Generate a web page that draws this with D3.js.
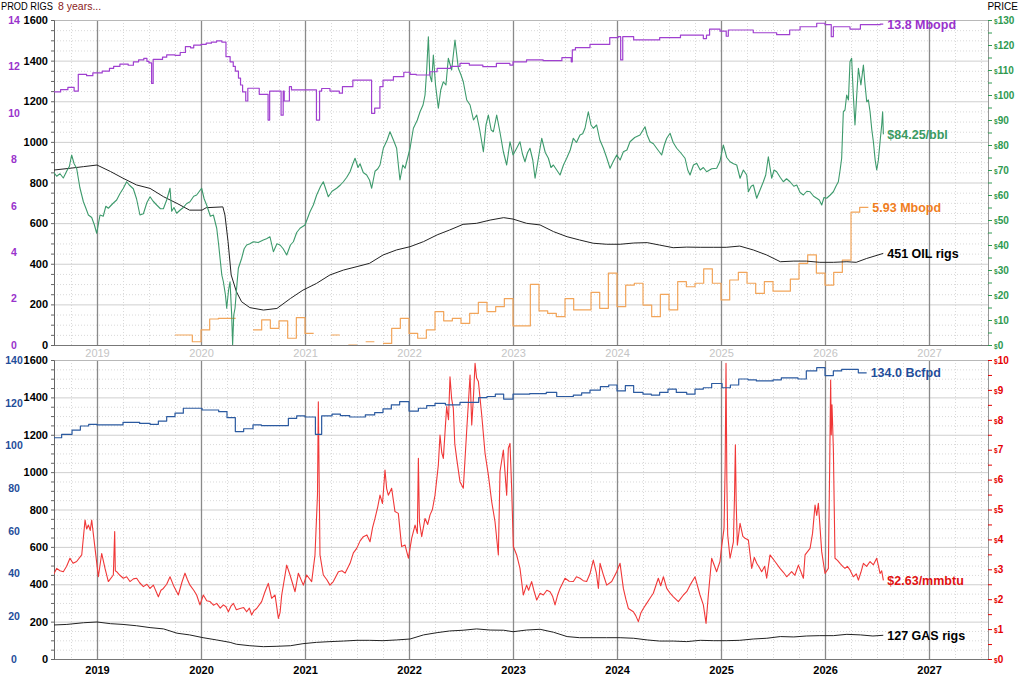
<!DOCTYPE html>
<html>
<head>
<meta charset="utf-8">
<script src="https://cdn.jsdelivr.net/npm/d3@7"></script>
<style>
body { margin: 0; background: #fff; }
svg { display: block; font-family: "Liberation Sans", Arial, sans-serif; }
</style>
</head>
<body>
<script>
// ---- tick labels ----
var years = [2019, 2020, 2021, 2022, 2023, 2024, 2025, 2026, 2027];
var rigTicks = [0, 200, 400, 600, 800, 1000, 1200, 1400, 1600];
var oilProdTicks = [0, 2, 4, 6, 8, 10, 12, 14];
var gasProdTicks = [0, 20, 40, 60, 80, 100, 120, 140];
var oilPriceTicks = [0, 10, 20, 30, 40, 50, 60, 70, 80, 90, 100, 110, 120, 130];
var gasPriceTicks = [0, 1, 2, 3, 4, 5, 6, 7, 8, 9, 10];

// ---- series, [decimal year, value] ----
// US crude production, Mbopd (step)
var oilProd = [[2018.58,10.90],[2018.65,11.00],[2018.72,11.10],[2018.78,10.94],[2018.82,11.66],[2018.90,11.60],
  [2018.96,11.72],[2019.05,11.80],[2019.12,11.92],[2019.16,12.00],[2019.22,12.10],[2019.30,12.05],[2019.35,12.20],
  [2019.40,12.28],[2019.45,12.35],[2019.48,12.22],[2019.50,12.15],[2019.525,11.27],[2019.54,12.30],[2019.63,12.40],
  [2019.67,12.50],[2019.75,12.48],[2019.80,12.60],[2019.85,12.85],[2019.90,12.80],[2019.93,12.92],[2020.00,12.95],
  [2020.05,13.00],[2020.10,13.05],[2020.15,13.10],[2020.20,13.05],[2020.24,12.42],[2020.28,12.20],[2020.31,12.00],
  [2020.33,11.80],[2020.36,11.50],[2020.38,11.20],[2020.40,10.90],[2020.43,10.51],[2020.45,11.06],[2020.56,10.80],
  [2020.645,9.69],[2020.66,10.94],[2020.77,9.90],[2020.79,10.94],[2020.80,10.51],[2020.85,11.13],[2020.87,10.99],
  [2021.11,9.69],[2021.14,10.94],[2021.16,11.05],[2021.24,10.94],[2021.33,10.85],[2021.36,11.13],[2021.46,11.41],
  [2021.64,9.98],[2021.67,10.20],[2021.72,11.13],[2021.75,11.41],[2021.85,11.56],[2021.95,11.75],[2022.01,11.66],
  [2022.07,11.63],[2022.20,11.77],[2022.27,11.92],[2022.40,12.00],[2022.49,12.13],[2022.58,12.06],[2022.71,11.99],
  [2022.84,12.13],[2022.97,12.06],[2023.00,12.20],[2023.13,12.28],[2023.29,12.25],[2023.47,12.38],[2023.56,12.20],
  [2023.57,12.71],[2023.60,12.81],[2023.74,12.95],[2023.93,13.24],[2024.01,13.28],[2024.035,12.28],[2024.055,13.28],
  [2024.16,13.14],[2024.41,13.24],[2024.61,13.35],[2024.83,13.20],[2024.86,13.35],[2024.89,13.61],[2024.99,13.52],
  [2025.05,13.30],[2025.07,13.57],[2025.31,13.45],[2025.535,13.37],[2025.66,13.57],[2025.76,13.71],[2025.92,13.86],
  [2026.00,13.80],[2026.06,13.28],[2026.08,13.71],[2026.24,13.61],[2026.34,13.80],[2026.53,13.82],[2026.56,13.82]];

// monthly production from Oct 2019, Mbopd (orange, step, gaps = null)
var orangeStart = 2019.75;
var orangeProd = [0.43,0.43,0.14,0.65,1.12,1.15,1.15,null,null,0.65,1.08,0.72,1.04,0.29,1.18,0.50,null,null,0.43,null,
  0.00,null,0.14,null,0.07,0.72,1.15,0.50,0.29,0.65,1.44,1.04,1.15,0.93,1.36,1.84,1.44,1.65,2.00,0.82,0.82,2.61,1.47,
  1.36,1.22,2.00,1.51,1.51,2.27,1.58,3.10,1.65,2.58,2.66,1.72,1.22,2.18,1.51,2.73,2.51,2.66,3.28,2.66,1.94,2.80,3.13,
  2.66,2.22,2.73,2.32,2.32,2.84,3.52,3.88,3.10,2.58,3.13,3.66,5.72,5.93];

// WTI, $/bbl
var oilPrice = [[2018.580,69.3],[2018.612,67.5],[2018.644,68.5],[2018.676,66.8],[2018.708,69.5],[2018.735,71.5],
  [2018.756,76.0],[2018.780,72.5],[2018.804,70.7],[2018.835,63.0],[2018.869,57.3],[2018.895,54.5],[2018.917,52.0],
  [2018.949,51.0],[2018.975,48.0],[2018.997,44.7],[2019.029,52.0],[2019.060,51.5],[2019.085,55.5],[2019.109,54.7],
  [2019.150,56.5],[2019.189,58.0],[2019.220,60.5],[2019.253,62.7],[2019.285,65.3],[2019.310,64.0],[2019.349,62.5],
  [2019.380,58.5],[2019.413,52.0],[2019.446,52.5],[2019.480,57.0],[2019.510,59.3],[2019.540,57.5],[2019.574,56.0],
  [2019.610,54.5],[2019.638,54.5],[2019.670,58.0],[2019.702,62.7],[2019.718,53.5],[2019.740,55.0],[2019.766,52.7],
  [2019.800,54.0],[2019.830,55.0],[2019.860,56.5],[2019.894,57.3],[2019.930,59.5],[2019.958,60.0],[2020.006,62.7],
  [2020.030,58.5],[2020.054,56.0],[2020.090,51.5],[2020.119,52.0],[2020.151,46.7],[2020.170,40.0],[2020.183,34.7],
  [2020.200,28.0],[2020.215,25.3],[2020.235,20.0],[2020.247,14.7],[2020.265,22.0],[2020.279,25.3],[2020.295,12.0],
  [2020.304,0.0],[2020.315,12.0],[2020.327,14.7],[2020.345,24.0],[2020.359,30.7],[2020.391,34.7],[2020.415,38.5],
  [2020.439,40.0],[2020.470,40.5],[2020.503,41.3],[2020.550,41.0],[2020.599,42.0],[2020.630,42.5],[2020.663,43.3],
  [2020.696,37.3],[2020.730,40.5],[2020.760,40.0],[2020.790,38.5],[2020.824,36.0],[2020.860,40.0],[2020.888,41.3],
  [2020.920,45.0],[2020.952,46.7],[2021.000,48.0],[2021.048,53.3],[2021.080,56.0],[2021.112,60.0],[2021.150,63.5],
  [2021.176,65.3],[2021.224,59.3],[2021.260,61.5],[2021.304,62.7],[2021.340,64.0],[2021.369,65.3],[2021.400,67.0],
  [2021.433,69.3],[2021.460,72.5],[2021.481,74.7],[2021.510,71.0],[2021.529,72.5],[2021.560,69.0],[2021.593,68.0],
  [2021.620,66.0],[2021.641,62.7],[2021.673,69.5],[2021.700,70.5],[2021.721,72.0],[2021.753,78.7],[2021.790,82.0],
  [2021.817,85.3],[2021.850,82.0],[2021.881,78.7],[2021.900,71.0],[2021.913,66.0],[2021.940,72.0],[2021.962,70.7],
  [2022.010,78.7],[2022.042,86.7],[2022.080,90.0],[2022.106,93.3],[2022.135,96.0],[2022.154,100.0],[2022.170,110.0],
  [2022.186,123.3],[2022.200,108.0],[2022.218,105.3],[2022.234,116.0],[2022.255,104.0],[2022.282,94.7],[2022.305,102.0],
  [2022.330,105.3],[2022.355,104.0],[2022.378,114.7],[2022.410,110.0],[2022.442,122.0],[2022.474,110.7],[2022.500,108.0],
  [2022.522,105.3],[2022.555,98.0],[2022.587,96.0],[2022.620,90.0],[2022.651,92.0],[2022.680,86.0],[2022.715,77.3],
  [2022.740,88.0],[2022.763,92.0],[2022.790,86.0],[2022.811,85.3],[2022.843,92.0],[2022.875,85.0],[2022.907,77.3],
  [2022.939,72.0],[2022.971,81.3],[2023.000,76.0],[2023.035,78.7],[2023.067,81.3],[2023.090,76.5],[2023.115,73.3],
  [2023.140,77.0],[2023.163,78.7],[2023.190,74.0],[2023.212,66.7],[2023.245,75.0],[2023.276,82.7],[2023.310,77.0],
  [2023.340,74.7],[2023.365,71.0],[2023.388,72.0],[2023.420,70.0],[2023.452,68.0],[2023.485,72.0],[2023.516,74.7],
  [2023.550,78.0],[2023.580,82.7],[2023.610,81.0],[2023.644,84.0],[2023.670,84.5],[2023.692,86.7],[2023.724,93.3],
  [2023.750,88.0],[2023.772,86.7],[2023.804,88.0],[2023.835,82.0],[2023.869,78.7],[2023.900,75.0],[2023.933,70.7],
  [2023.965,73.5],[2023.997,76.0],[2024.030,74.0],[2024.061,77.3],[2024.095,78.0],[2024.125,81.3],[2024.170,83.0],
  [2024.221,84.0],[2024.269,87.3],[2024.290,84.0],[2024.317,81.3],[2024.350,80.5],[2024.381,78.7],[2024.429,76.0],
  [2024.455,80.0],[2024.478,82.7],[2024.510,84.7],[2024.540,81.0],[2024.574,78.7],[2024.610,77.0],[2024.654,74.7],
  [2024.680,70.0],[2024.702,68.0],[2024.735,72.0],[2024.766,72.7],[2024.800,70.0],[2024.830,71.0],[2024.862,69.3],
  [2024.910,70.5],[2024.958,70.7],[2024.990,73.5],[2025.022,80.0],[2025.055,75.0],[2025.087,73.3],[2025.120,72.5],
  [2025.151,72.0],[2025.183,66.7],[2025.215,70.0],[2025.247,68.0],[2025.263,61.3],[2025.290,63.5],[2025.311,64.0],
  [2025.343,58.7],[2025.375,62.0],[2025.407,65.3],[2025.430,68.0],[2025.455,75.3],[2025.487,66.7],[2025.510,70.0],
  [2025.535,69.3],[2025.570,67.0],[2025.599,65.3],[2025.630,66.5],[2025.663,65.3],[2025.700,63.5],[2025.728,64.0],
  [2025.760,61.0],[2025.792,60.0],[2025.825,61.5],[2025.856,61.3],[2025.890,59.5],[2025.920,58.7],[2025.945,58.0],
  [2025.968,56.0],[2025.990,59.0],[2026.016,58.7],[2026.050,60.0],[2026.080,61.3],[2026.105,63.5],[2026.128,65.3],
  [2026.145,70.0],[2026.160,74.7],[2026.176,93.3],[2026.192,94.0],[2026.208,100.0],[2026.225,98.0],[2026.240,113.3],
  [2026.256,114.7],[2026.272,100.0],[2026.288,88.0],[2026.305,100.0],[2026.321,110.7],[2026.345,104.0],[2026.369,112.0],
  [2026.385,104.0],[2026.401,97.3],[2026.417,98.0],[2026.433,93.3],[2026.450,86.0],[2026.465,81.3],[2026.482,74.0],
  [2026.497,70.0],[2026.513,74.0],[2026.529,81.3],[2026.545,88.0],[2026.554,93.3],[2026.561,84.25]];

// oil rigs
var oilRigs = [[2018.58,861],[2018.74,870],[2018.87,878],[2019.00,886],[2019.13,854],[2019.25,821],[2019.38,788],
  [2019.51,771],[2019.64,730],[2019.77,697],[2019.89,664],[2020.01,664],[2020.05,676],[2020.21,680],[2020.23,640],
  [2020.26,509],[2020.29,345],[2020.34,263],[2020.39,213],[2020.47,184],[2020.60,172],[2020.73,180],[2020.86,229],
  [2020.98,270],[2021.11,303],[2021.24,345],[2021.37,369],[2021.50,386],[2021.62,402],[2021.75,443],[2021.88,468],
  [2022.01,484],[2022.14,509],[2022.27,542],[2022.39,566],[2022.52,594],[2022.65,599],[2022.78,615],[2022.91,627],
  [2023.00,620],[2023.13,599],[2023.26,591],[2023.39,558],[2023.52,533],[2023.64,517],[2023.77,501],[2023.90,496],
  [2024.03,496],[2024.16,502],[2024.29,504],[2024.41,492],[2024.54,479],[2024.67,482],[2024.80,481],[2024.93,481],
  [2025.05,481],[2025.18,487],[2025.31,468],[2025.44,443],[2025.57,410],[2025.70,413],[2025.82,413],[2025.95,407],
  [2026.08,407],[2026.21,410],[2026.30,407],[2026.40,426],[2026.56,451]];

// US dry gas production, Bcfpd (step)
var gasProd = [[2018.58,103.6],[2018.66,105.2],[2018.76,107.2],[2018.84,109.1],[2018.92,109.9],[2019.00,109.6],
  [2019.25,110.8],[2019.41,110.3],[2019.51,109.9],[2019.59,111.4],[2019.67,113.5],[2019.75,115.1],[2019.83,117.4],
  [2020.01,116.6],[2020.17,115.8],[2020.25,113.0],[2020.33,106.5],[2020.41,107.8],[2020.50,109.6],[2020.58,109.3],
  [2020.84,112.7],[2020.92,113.8],[2021.00,113.3],[2021.10,105.2],[2021.16,113.8],[2021.26,114.7],[2021.34,114.0],
  [2021.43,113.3],[2021.58,114.3],[2021.67,115.4],[2021.75,117.1],[2021.83,119.0],[2021.91,120.5],[2022.00,116.1],
  [2022.09,117.4],[2022.17,118.6],[2022.25,119.7],[2022.35,119.0],[2022.49,120.2],[2022.67,122.4],[2022.75,122.9],
  [2022.83,124.0],[2022.91,121.7],[2023.00,124.0],[2023.16,124.3],[2023.32,124.8],[2023.42,122.9],[2023.58,123.6],
  [2023.66,124.6],[2023.74,125.9],[2023.84,127.5],[2023.92,128.3],[2024.00,125.5],[2024.08,128.0],[2024.16,124.8],
  [2024.25,124.0],[2024.33,123.6],[2024.41,124.8],[2024.49,126.4],[2024.57,124.8],[2024.67,124.0],[2024.75,126.4],
  [2024.83,127.0],[2024.91,129.0],[2025.01,127.0],[2025.09,128.3],[2025.17,131.1],[2025.26,130.7],[2025.34,130.2],
  [2025.50,130.7],[2025.58,131.6],[2025.74,131.1],[2025.82,134.9],[2025.92,136.4],[2026.00,132.7],[2026.08,134.9],
  [2026.16,135.6],[2026.32,134.0],[2026.40,134.0]];

// Henry Hub, $/mmbtu
var gasPrice = [[2018.580,2.81],[2018.612,3.03],[2018.644,2.95],[2018.676,2.92],[2018.708,3.10],[2018.740,3.37],
  [2018.770,3.20],[2018.804,3.26],[2018.853,3.48],[2018.885,4.65],[2018.900,4.35],[2018.917,4.48],[2018.935,4.30],
  [2018.949,4.65],[2018.981,3.70],[2019.013,2.75],[2019.045,3.53],[2019.077,3.03],[2019.109,2.59],[2019.157,2.81],
  [2019.170,4.26],[2019.176,2.95],[2019.189,2.92],[2019.220,2.80],[2019.253,2.70],[2019.285,2.75],[2019.317,2.59],
  [2019.350,2.68],[2019.381,2.70],[2019.410,2.55],[2019.446,2.42],[2019.480,2.50],[2019.510,2.36],[2019.542,2.47],
  [2019.590,2.08],[2019.615,2.30],[2019.638,2.36],[2019.670,2.50],[2019.702,2.75],[2019.734,2.47],[2019.782,2.14],
  [2019.815,2.55],[2019.846,2.87],[2019.870,2.65],[2019.894,2.47],[2019.930,2.30],[2019.958,2.14],[2019.990,1.81],
  [2020.022,2.14],[2020.055,1.95],[2020.087,1.92],[2020.120,1.80],[2020.151,1.86],[2020.185,1.70],[2020.215,1.81],
  [2020.240,1.75],[2020.263,1.58],[2020.290,1.78],[2020.311,1.86],[2020.340,1.65],[2020.375,1.69],[2020.410,1.72],
  [2020.439,1.58],[2020.465,1.70],[2020.487,1.47],[2020.510,1.62],[2020.535,1.69],[2020.583,1.92],[2020.615,2.25],
  [2020.647,2.53],[2020.679,2.03],[2020.712,2.14],[2020.744,1.36],[2020.760,1.55],[2020.776,2.14],[2020.824,3.14],
  [2020.856,2.81],[2020.904,2.25],[2020.936,2.87],[2020.984,2.47],[2021.016,2.81],[2021.064,2.59],[2021.096,3.48],
  [2021.120,5.50],[2021.128,8.60],[2021.136,6.00],[2021.144,3.48],[2021.176,2.81],[2021.210,2.65],[2021.240,2.47],
  [2021.272,2.59],[2021.321,2.92],[2021.355,2.95],[2021.385,2.87],[2021.433,3.20],[2021.465,3.55],[2021.497,3.70],
  [2021.530,3.95],[2021.561,4.09],[2021.595,4.15],[2021.625,3.92],[2021.650,4.40],[2021.673,4.70],[2021.700,5.10],
  [2021.721,5.48],[2021.745,5.20],[2021.769,6.32],[2021.785,5.70],[2021.801,5.48],[2021.833,5.71],[2021.865,4.93],
  [2021.897,4.87],[2021.929,3.76],[2021.962,3.81],[2021.994,3.37],[2022.026,4.04],[2022.058,4.48],[2022.080,4.20],
  [2022.090,6.71],[2022.100,4.60],[2022.122,4.09],[2022.154,4.70],[2022.180,4.50],[2022.202,4.82],[2022.225,5.00],
  [2022.250,5.48],[2022.282,6.49],[2022.298,7.49],[2022.315,6.90],[2022.330,6.71],[2022.362,8.44],[2022.380,8.00],
  [2022.394,9.44],[2022.410,8.70],[2022.426,8.38],[2022.440,7.20],[2022.458,6.71],[2022.490,5.93],[2022.522,5.71],
  [2022.554,7.60],[2022.587,9.50],[2022.603,7.83],[2022.620,8.80],[2022.635,9.89],[2022.650,9.40],[2022.667,9.28],
  [2022.699,8.16],[2022.731,6.88],[2022.763,6.15],[2022.795,5.26],[2022.827,4.59],[2022.859,3.48],[2022.875,6.27],
  [2022.907,6.99],[2022.939,5.48],[2022.955,7.05],[2022.971,7.21],[2022.987,5.70],[2023.003,3.76],[2023.035,3.48],
  [2023.067,3.03],[2023.099,2.14],[2023.131,2.47],[2023.150,2.30],[2023.179,2.59],[2023.200,2.30],[2023.228,1.97],
  [2023.260,2.20],[2023.292,2.14],[2023.325,2.30],[2023.356,2.25],[2023.380,2.10],[2023.404,1.81],[2023.430,2.15],
  [2023.452,2.36],[2023.500,2.70],[2023.540,2.60],[2023.580,2.59],[2023.610,2.75],[2023.644,2.70],[2023.675,2.62],
  [2023.708,2.59],[2023.740,2.85],[2023.772,3.31],[2023.800,2.90],[2023.821,2.36],[2023.837,3.20],[2023.870,2.80],
  [2023.901,2.47],[2023.949,2.59],[2023.997,2.92],[2024.029,3.20],[2024.061,2.36],[2024.085,2.00],[2024.109,1.69],
  [2024.157,1.58],[2024.180,1.45],[2024.205,1.25],[2024.230,1.55],[2024.253,1.69],[2024.285,1.86],[2024.320,2.05],
  [2024.349,2.20],[2024.397,2.70],[2024.420,2.45],[2024.446,2.75],[2024.478,2.36],[2024.510,2.20],[2024.542,2.08],
  [2024.590,1.92],[2024.638,2.14],[2024.670,2.25],[2024.702,2.47],[2024.750,2.75],[2024.798,2.14],[2024.830,1.81],
  [2024.856,1.19],[2024.878,2.14],[2024.910,3.37],[2024.958,2.92],[2024.990,3.26],[2025.006,3.76],[2025.029,4.37],
  [2025.040,6.50],[2025.048,9.89],[2025.056,6.00],[2025.064,4.15],[2025.087,3.37],[2025.119,3.92],[2025.130,5.50],
  [2025.138,7.16],[2025.146,5.20],[2025.157,3.81],[2025.183,4.54],[2025.210,4.10],[2025.231,4.04],[2025.263,3.98],
  [2025.295,3.03],[2025.320,3.40],[2025.343,3.20],[2025.370,3.05],[2025.391,2.92],[2025.420,3.10],[2025.439,2.70],
  [2025.471,3.48],[2025.519,3.26],[2025.567,3.03],[2025.600,2.90],[2025.631,2.75],[2025.679,2.92],[2025.710,2.80],
  [2025.744,3.14],[2025.792,2.70],[2025.808,3.48],[2025.856,3.70],[2025.880,4.20],[2025.904,5.15],[2025.920,4.80],
  [2025.936,5.21],[2025.968,3.59],[2026.000,2.86],[2026.032,3.03],[2026.045,6.50],[2026.054,9.33],[2026.060,7.50],
  [2026.067,8.50],[2026.080,7.05],[2026.096,3.37],[2026.120,3.30],[2026.144,3.20],[2026.170,3.10],[2026.192,3.03],
  [2026.215,3.10],[2026.240,2.98],[2026.272,2.75],[2026.300,2.85],[2026.321,2.64],[2026.345,2.90],[2026.369,3.20],
  [2026.400,3.10],[2026.433,3.26],[2026.465,3.15],[2026.497,3.37],[2026.529,2.86],[2026.545,2.95],[2026.561,2.63]];

// gas rigs
var gasRigs = [[2018.58,182],[2018.71,185],[2018.87,194],[2019.00,198],[2019.13,189],[2019.25,185],[2019.38,178],
  [2019.51,168],[2019.64,161],[2019.77,138],[2019.89,129],[2020.02,114],[2020.15,102],[2020.28,89],[2020.34,79],
  [2020.47,71],[2020.60,66],[2020.73,68],[2020.86,71],[2020.98,82],[2021.11,89],[2021.24,93],[2021.37,96],[2021.50,100],
  [2021.62,100],[2021.75,98],[2021.88,102],[2022.01,107],[2022.14,129],[2022.27,141],[2022.39,150],[2022.52,154],
  [2022.65,161],[2022.78,155],[2022.91,154],[2023.00,146],[2023.13,155],[2023.26,159],[2023.39,143],[2023.52,120],
  [2023.64,114],[2023.90,114],[2024.03,114],[2024.16,111],[2024.29,102],[2024.41,96],[2024.54,96],[2024.67,93],
  [2024.80,100],[2024.93,98],[2025.05,98],[2025.18,100],[2025.31,107],[2025.44,111],[2025.57,120],[2025.70,118],
  [2025.82,123],[2025.95,125],[2026.08,125],[2026.21,132],[2026.34,129],[2026.46,123],[2026.56,127]];

// ---- layout ----
var W = 1020, H = 676;
var X0 = 54, X1 = 988;
var T0 = 20, T1 = 345, B0 = 360, B1 = 659;

var svg = d3.select("body").append("svg").attr("width", W).attr("height", H);
svg.append("rect").attr("width", W).attr("height", H).attr("fill", "#fff");

var x = d3.scaleLinear().domain([2018.5865, 2027.567]).range([X0, X1]);

var rigTop = d3.scaleLinear().domain([0, 1600]).range([T1, T0]);
var prodTop = d3.scaleLinear().domain([0, 14]).range([T1, T0]);
var priceTop = d3.scaleLinear().domain([0, 130]).range([T1, T0]);

var rigBot = d3.scaleLinear().domain([0, 1600]).range([B1, B0]);
var prodBot = d3.scaleLinear().domain([0, 140]).range([B1, B0]);
var priceBot = d3.scaleLinear().domain([0, 10]).range([B1, B0]);

var purple = "#a040d0", green = "#3d9a6c", orange = "#f2a55a", blue = "#2b5aa0", red = "#f03838";

//// grid + frame for one panel ////
var drawGrid = function(y0, y1, rig) {
  var g = svg.append("g");
  var minorH = d3.range(50, 1600, 50).filter(function(v) { return v % 200 !== 0; });
  g.selectAll(null).data(minorH).join("line")
    .attr("x1", X0).attr("x2", X1)
    .attr("y1", function(d) { return rig(d) + 0.5; }).attr("y2", function(d) { return rig(d) + 0.5; })
    .attr("stroke", "#d9d9d9").attr("stroke-dasharray", "1,2");
  var quarters = d3.range(2018.75, 2027.56, 0.25).filter(function(q) { return q % 1 !== 0; });
  g.selectAll(null).data(quarters).join("line")
    .attr("x1", function(d) { return Math.round(x(d)) + 0.5; }).attr("x2", function(d) { return Math.round(x(d)) + 0.5; })
    .attr("y1", y0).attr("y2", y1)
    .attr("stroke", "#d9d9d9").attr("stroke-dasharray", "1,2");
  g.selectAll(null).data(rigTicks.slice(1, -1)).join("line")
    .attr("x1", X0).attr("x2", X1)
    .attr("y1", function(d) { return rig(d) + 0.5; }).attr("y2", function(d) { return rig(d) + 0.5; })
    .attr("stroke", "#cfcfcf");
  g.selectAll(null).data(years).join("line")
    .attr("x1", function(d) { return Math.round(x(d)) + 0.5; }).attr("x2", function(d) { return Math.round(x(d)) + 0.5; })
    .attr("y1", y0).attr("y2", y1)
    .attr("stroke", "#8a8a8a").attr("stroke-width", 1.3);
  g.append("line").attr("x1", X0).attr("x2", X1).attr("y1", y0 + 0.5).attr("y2", y0 + 0.5).attr("stroke", "#b8b8b8");
  g.append("line").attr("x1", X0).attr("x2", X1).attr("y1", y1 + 0.5).attr("y2", y1 + 0.5).attr("stroke", "#777");
  g.append("line").attr("x1", X1 + 0.5).attr("x2", X1 + 0.5).attr("y1", y0).attr("y2", y1).attr("stroke", "#999");
};

drawGrid(T0, T1, rigTop);
drawGrid(B0, B1, rigBot);

//// axes ////
var rigAxis = function(scale) {
  var a = svg.append("g").attr("transform", "translate(" + X0 + ",0)")
    .call(d3.axisLeft(scale).tickValues(d3.range(0, 1601, 50)).tickSize(3).tickPadding(3)
      .tickFormat(function(d) { return d % 200 === 0 ? d : ""; }));
  a.select(".domain").attr("stroke", "#666");
  a.selectAll(".tick line").attr("stroke", "#666");
  a.selectAll("text").attr("font-size", 11).attr("font-weight", "bold").attr("fill", "#000")
    .attr("font-family", "Liberation Sans, Arial, sans-serif");
};
rigAxis(rigTop);
rigAxis(rigBot);

var outerAxis = function(scale, ticks, color) {
  var a = svg.append("g").attr("transform", "translate(" + X0 + ",0)")
    .call(d3.axisLeft(scale).tickValues(ticks).tickSize(0));
  a.select(".domain").remove();
  a.selectAll("text").attr("x", -40).attr("text-anchor", "middle")
    .attr("font-size", 10.5).attr("font-weight", "bold").attr("fill", color)
    .attr("font-family", "Liberation Sans, Arial, sans-serif");
};
outerAxis(prodTop, oilProdTicks, "#9932cc");
outerAxis(prodBot, gasProdTicks, "#1f4e9a");

var priceAxis = function(scale, ticks, step, color) {
  var last = ticks[ticks.length - 1];
  var a = svg.append("g").attr("transform", "translate(" + X1 + ",0)")
    .call(d3.axisRight(scale).tickValues(d3.range(0, last + step / 2, step)).tickSize(4).tickPadding(2));
  a.select(".domain").attr("stroke", "#999");
  a.selectAll(".tick line").attr("stroke", color);
  a.selectAll("text").attr("font-size", 10).attr("font-weight", "bold").attr("fill", color)
    .attr("font-family", "Liberation Sans, Arial, sans-serif")
    .each(function(d) {
      var t = d3.select(this);
      t.text(null);
      if (ticks.indexOf(d) < 0) return;
      t.append("tspan").attr("font-size", 6.5).text("$");
      t.append("tspan").text(d);
    });
};
priceAxis(priceTop, oilPriceTicks, 5, "#2e9a50");
priceAxis(priceBot, gasPriceTicks, 0.5, "#e60000");

// year labels
var yearAxis = function(yPos, pad, color, weight) {
  var a = svg.append("g").attr("transform", "translate(0," + yPos + ")")
    .call(d3.axisBottom(x).tickValues(years).tickSize(0).tickPadding(pad).tickFormat(d3.format("d")));
  a.select(".domain").remove();
  a.selectAll("text").attr("font-size", 11).attr("font-weight", weight).attr("fill", color)
    .attr("font-family", "Liberation Sans, Arial, sans-serif");
};
yearAxis(T1, 4, "#c4c4c4", "normal");
yearAxis(B1, 7, "#000", "bold");

//// series ////
svg.append("clipPath").attr("id", "clipTop").append("rect")
  .attr("x", X0).attr("y", T0 - 2).attr("width", X1 - X0).attr("height", T1 - T0 + 2);
svg.append("clipPath").attr("id", "clipBot").append("rect")
  .attr("x", X0).attr("y", B0 - 2).attr("width", X1 - X0).attr("height", B1 - B0 + 2);

var drawLine = function(data, yScale, color, curve, clip, width) {
  var line = d3.line()
    .defined(function(d) { return d[1] !== null; })
    .x(function(d) { return x(d[0]); })
    .y(function(d) { return yScale(d[1]); })
    .curve(curve);
  svg.append("path").datum(data)
    .attr("d", line)
    .attr("fill", "none")
    .attr("stroke", color)
    .attr("stroke-width", width || 1.1)
    .attr("stroke-linejoin", "round")
    .attr("clip-path", "url(#" + clip + ")");
};

// monthly step values -> explicit step points, null breaks the line
var monthlySteps = function(start, vals) {
  var pts = [];
  vals.forEach(function(v, i) {
    var t = start + i / 12;
    if (v === null) { pts.push([t, null]); return; }
    pts.push([t, v]);
    pts.push([t + 1 / 12, v]);
  });
  return pts;
};
var orangePts = monthlySteps(orangeStart, orangeProd);

drawLine(orangePts, prodTop, orange, d3.curveLinear, "clipTop", 1.2);
drawLine(oilRigs, rigTop, "#222", d3.curveLinear, "clipTop", 1);
drawLine(oilPrice, priceTop, green, d3.curveLinear, "clipTop", 1.1);
drawLine(oilProd, prodTop, purple, d3.curveStepAfter, "clipTop", 1.2);

drawLine(gasRigs, rigBot, "#222", d3.curveLinear, "clipBot", 1);
drawLine(gasPrice, priceBot, red, d3.curveLinear, "clipBot", 1.1);
drawLine(gasProd, prodBot, blue, d3.curveStepAfter, "clipBot", 1.2);

//// end labels ////
var endLabel = function(t, yv, txt, color) {
  svg.append("text")
    .attr("x", x(t) + 4).attr("y", yv).attr("dy", "0.36em")
    .attr("font-size", 12.5).attr("font-weight", "bold").attr("fill", color)
    .text(txt);
};
var lastOf = function(arr) { return arr[arr.length - 1]; };
var orangeEnd = orangeStart + orangeProd.length / 12;

endLabel(lastOf(oilProd)[0], prodTop(lastOf(oilProd)[1]), "13.8 Mbopd", "#9932cc");
endLabel(lastOf(oilPrice)[0], priceTop(lastOf(oilPrice)[1]), "$84.25/bbl", "#3a9a62");
endLabel(orangeEnd, prodTop(lastOf(orangeProd)), "5.93 Mbopd", "#f07d1e");
endLabel(lastOf(oilRigs)[0], rigTop(lastOf(oilRigs)[1]), "451 OIL rigs", "#000");
endLabel(lastOf(gasProd)[0], prodBot(lastOf(gasProd)[1]), "134.0 Bcfpd", "#1f4e9a");
endLabel(lastOf(gasPrice)[0], priceBot(lastOf(gasPrice)[1]), "$2.63/mmbtu", "#e01010");
endLabel(lastOf(gasRigs)[0], rigBot(lastOf(gasRigs)[1]), "127 GAS rigs", "#000");

//// titles ////
svg.append("text").attr("x", 1).attr("y", 10).attr("font-size", 10).attr("fill", "#000")
  .attr("textLength", 52).attr("lengthAdjust", "spacingAndGlyphs").text("PROD RIGS");
svg.append("text").attr("x", 58).attr("y", 10).attr("font-size", 10.5).attr("fill", "#8b1a1a").text("8 years...");
svg.append("text").attr("x", 1018).attr("y", 10).attr("font-size", 10).attr("fill", "#000")
  .attr("text-anchor", "end").text("PRICE");
</script>
</body>
</html>
